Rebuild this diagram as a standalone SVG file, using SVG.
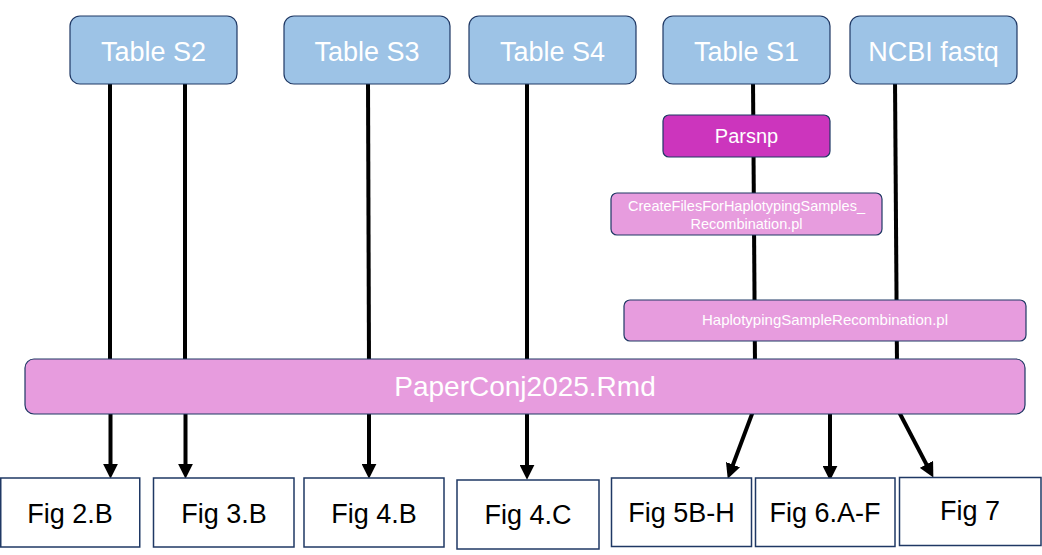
<svg xmlns="http://www.w3.org/2000/svg" width="1042" height="555" viewBox="0 0 1042 555">
<style>
.src{fill:#9DC3E6;stroke:#1F3864;stroke-width:1.2}
.tool{fill:#E79CDE;stroke:#1F3864;stroke-width:1.2}
.dark{fill:#CC35BD;stroke:#1F3864;stroke-width:1.2}
.fig{fill:#FFFFFF;stroke:#1F3864;stroke-width:1.5}
.wt{fill:#FFFFFF;font-family:"Liberation Sans","Open Sans",Arial,sans-serif;text-anchor:middle}
.bt{fill:#000000;font-family:"Liberation Sans","Open Sans",Arial,sans-serif;text-anchor:middle;font-size:27px}
.ln{stroke:#000000;stroke-width:4;fill:none}
.ar{stroke:#000000;stroke-width:4;fill:none;marker-end:url(#ah)}
</style>
<defs>
<marker id="ah" markerUnits="userSpaceOnUse" markerWidth="15" markerHeight="15" viewBox="0 0 14 14" refX="4" refY="7" orient="auto">
<path d="M0,0 L14,7 L0,14 Z" fill="#000000"/>
</marker>
</defs>
<g id="connectors">
<path class="ln" d="M110,80 L110,366"/>
<path class="ln" d="M185,80 L185,366"/>
<path class="ln" d="M368,80 L369,366"/>
<path class="ln" d="M527,80 L527,366"/>
<path class="ln" d="M753,80 L755,366"/>
<path class="ln" d="M895,80 L897,366"/>
<path class="ar" d="M110.5,410 L110.5,468"/>
<path class="ar" d="M185.5,410 L185.5,468"/>
<path class="ar" d="M369,410 L369,468"/>
<path class="ar" d="M527,410 L527,469"/>
<path class="ar" d="M753.5,410 L731.5,468.6"/>
<path class="ar" d="M830,410 L830,470"/>
<path class="ar" d="M898,410 L928.4,468.1"/>
</g>
<g id="tableS2"><rect class="src" x="70" y="16" width="167" height="68" rx="10"/><text class="wt" x="153.5" y="61" font-size="27">Table S2</text></g>
<g id="tableS3"><rect class="src" x="284" y="16" width="166" height="68" rx="10"/><text class="wt" x="367" y="61" font-size="27">Table S3</text></g>
<g id="tableS4"><rect class="src" x="469" y="16" width="167" height="68" rx="10"/><text class="wt" x="552.5" y="61" font-size="27">Table S4</text></g>
<g id="tableS1"><rect class="src" x="663" y="16" width="167" height="68" rx="10"/><text class="wt" x="746.5" y="61" font-size="27">Table S1</text></g>
<g id="ncbi"><rect class="src" x="850" y="16" width="167" height="68" rx="10"/><text class="wt" x="933.5" y="61" font-size="27">NCBI fastq</text></g>
<g id="parsnp"><rect class="dark" x="663" y="115" width="167" height="42" rx="6"/><text class="wt" x="746.5" y="143" font-size="20">Parsnp</text></g>
<g id="createFiles"><rect class="tool" x="611" y="193" width="271" height="42" rx="6"/><text class="wt" x="746.5" y="211" font-size="14.5">CreateFilesForHaplotypingSamples_</text><text class="wt" x="746.5" y="229" font-size="14.5">Recombination.pl</text></g>
<g id="haplotyping"><rect class="tool" x="624" y="300" width="402" height="41" rx="6"/><text class="wt" x="825" y="325" font-size="15">HaplotypingSampleRecombination.pl</text></g>
<g id="paperConj"><rect class="tool" x="25" y="359" width="1000" height="55" rx="9"/><text class="wt" x="525" y="396" font-size="28">PaperConj2025.Rmd</text></g>
<g id="fig2B"><rect class="fig" x="0.75" y="478" width="139" height="69"/><text class="bt" x="70" y="523">Fig 2.B</text></g>
<g id="fig3B"><rect class="fig" x="153.5" y="478" width="140.5" height="69"/><text class="bt" x="224" y="523">Fig 3.B</text></g>
<g id="fig4B"><rect class="fig" x="304" y="478" width="140" height="69"/><text class="bt" x="374" y="523">Fig 4.B</text></g>
<g id="fig4C"><rect class="fig" x="457" y="480" width="142" height="69"/><text class="bt" x="528" y="524">Fig 4.C</text></g>
<g id="fig5BH"><rect class="fig" x="611.5" y="478" width="140" height="68.5"/><text class="bt" x="681.5" y="522">Fig 5B-H</text></g>
<g id="fig6AF"><rect class="fig" x="755.5" y="478" width="139.5" height="68.5"/><text class="bt" x="825" y="522">Fig 6.A-F</text></g>
<g id="fig7"><rect class="fig" x="899.5" y="477.5" width="141.5" height="68"/><text class="bt" x="970" y="520">Fig 7</text></g>
</svg>
